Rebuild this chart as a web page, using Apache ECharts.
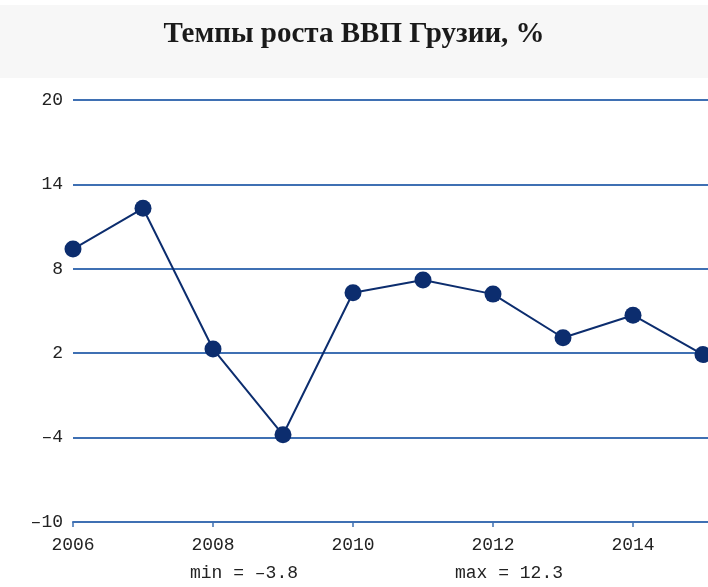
<!DOCTYPE html>
<html>
<head>
    <meta charset="utf-8">
    <title>Темпы роста ВВП Грузии</title>
    <script src="https://cdn.jsdelivr.net/npm/echarts@6/dist/echarts.min.js"></script>
    <style>
        html, body { margin: 0; padding: 0; background: #fff; }
    </style>
</head>
<body>
    <div id="main" style="width: 708px;height: 587px;"></div>
    <script type="text/javascript">
    // годы и темпы роста, %
    var years = [2006, 2007, 2008, 2009, 2010, 2011, 2012, 2013, 2014, 2015];
    var growth = [9.4, 12.3, 2.3, -3.8, 6.3, 7.2, 6.2, 3.1, 4.7, 1.9];
    var yTicks = [-10, -4, 2, 8, 14, 20];
    var titleText = 'Темпы роста ВВП Грузии, %';
    var minText = 'min = –3.8';
    var maxText = 'max = 12.3';

    var gridBlue = '#3f70b3';
    var lineBlue = '#0c2d6e';
    var monoFont = '"Liberation Mono", "DejaVu Sans Mono", monospace';

    var myChart = echarts.init(document.getElementById('main'));

    var option = {
        backgroundColor: '#fff',
        animation: false,
        graphic: [
            {
                type: 'rect',
                shape: { x: 0, y: 5, width: 708, height: 73 },
                style: { fill: '#f7f7f7' },
                z: -10
            },
            {
                type: 'text',
                left: 'center',
                top: 20,
                style: {
                    text: titleText,
                    font: 'bold 29px "Liberation Serif", "Times New Roman", serif',
                    fill: '#1a1a1a'
                }
            },
            {
                type: 'text',
                left: 190,
                top: 564,
                style: { text: minText, font: '18px ' + monoFont, fill: '#222' }
            },
            {
                type: 'text',
                left: 455,
                top: 564,
                style: { text: maxText, font: '18px ' + monoFont, fill: '#222' }
            }
        ],
        grid: {
            left: 73,
            width: 700,
            top: 100,
            bottom: 65,
            outerBoundsMode: 'none',
            containLabel: false
        },
        xAxis: {
            type: 'value',
            min: 2006,
            max: 2016,
            interval: 2,
            axisLine: { show: true, onZero: false, lineStyle: { color: gridBlue, width: 2 } },
            axisTick: { show: true, length: 5, lineStyle: { color: gridBlue, width: 1.5 } },
            splitLine: { show: false },
            axisLabel: {
                color: '#222',
                fontFamily: monoFont,
                fontSize: 18,
                margin: 14,
                formatter: function (v) { return String(v); }
            }
        },
        yAxis: {
            type: 'value',
            min: yTicks[0],
            max: yTicks[yTicks.length - 1],
            interval: 6,
            axisLine: { show: false },
            axisTick: { show: false },
            splitLine: { show: true, lineStyle: { color: gridBlue, width: 2 } },
            axisLabel: {
                color: '#222',
                fontFamily: monoFont,
                fontSize: 18,
                margin: 10,
                formatter: function (v) { return String(v).replace('-', '–'); }
            }
        },
        series: [
            {
                type: 'line',
                data: years.map(function (y, i) { return [y, growth[i]]; }),
                symbol: 'circle',
                symbolSize: 17,
                lineStyle: { color: lineBlue, width: 2 },
                itemStyle: { color: lineBlue },
                clip: false
            }
        ]
    };

    myChart.setOption(option);
    </script>
</body>
</html>
